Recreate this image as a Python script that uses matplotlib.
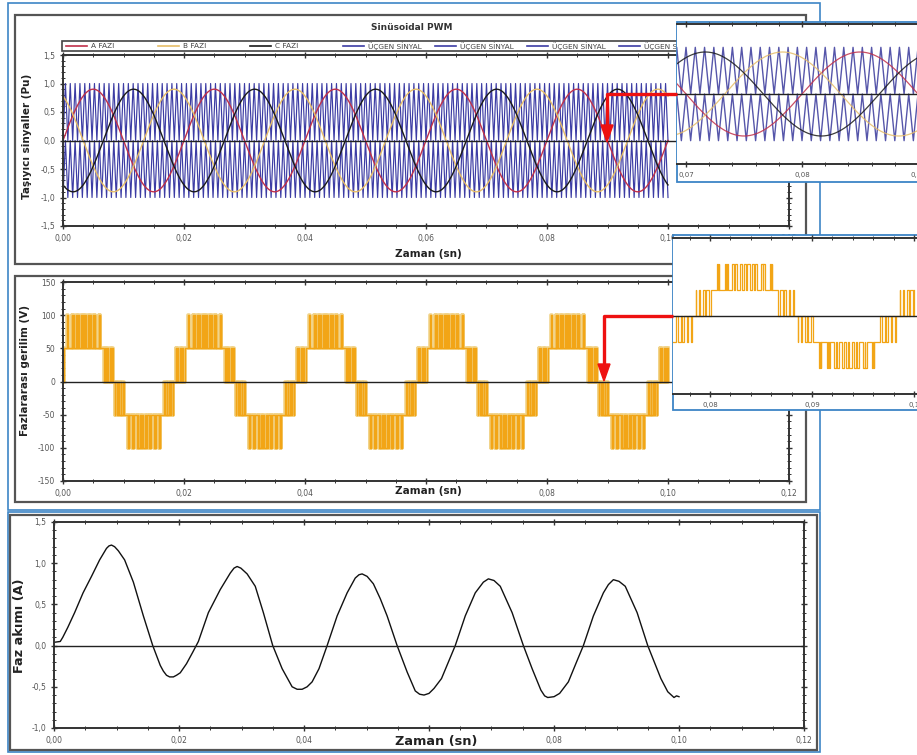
import numpy as np
import matplotlib
matplotlib.use("Agg")
from matplotlib import pyplot as plt
from matplotlib.lines import Line2D
from matplotlib.patches import Rectangle, Polygon
from matplotlib.ticker import MultipleLocator, FuncFormatter

W, H = 917, 755

# modulation settings
f_ref = 50.0            # Hz, reference
m_a = 0.9               # modulation index
f_carrier = 1250.0      # Hz, triangle carrier
v_level = 50.0          # V per inverter level
t_end = 0.1             # s
phase_names = ["A FAZI", "B FAZI", "C FAZI"]
phase_deg = [0.0, -240.0, -120.0]
phase_colors = ["#c0304a", "#e6bd68", "#1a1a1a"]
carrier_label = "ÜÇGEN SİNYAL"
carrier_color = "#3c3ca4"
volt_color = "#f2a516"
volt_halo = "#f1d48c"

# measured phase current
cur_t_ms = [0.0, 1.0, 1.4, 2.2, 3.3, 4.65, 6.0, 7.3, 8.4, 8.8, 9.2, 9.7, 10.3, 11.3, 12.7,
            14.3, 15.8, 17.0, 17.5, 18.0, 18.5, 19.1, 19.6, 20.2, 21.2, 22.2, 23.1, 24.7,
            26.6, 28.2, 28.8, 29.3, 29.9, 30.9, 32.2, 33.5, 35.0, 36.5, 38.1, 38.9, 39.7,
            40.5, 41.3, 42.4, 43.7, 45.3, 46.9, 48.2, 48.8, 49.3, 50.1, 51.1, 52.2, 53.3,
            54.9, 56.5, 57.8, 58.5, 59.2, 60.0, 60.8, 62.0, 64.2, 65.8, 67.4, 68.7, 69.5,
            70.4, 71.4, 73.3, 75.1, 76.5, 77.9, 78.5, 79.0, 80.0, 80.9, 82.3, 83.6, 84.7,
            86.3, 87.9, 88.7, 89.5, 90.4, 91.4, 93.3, 95.0, 97.1, 98.2, 99.2, 99.6, 100.0]
cur_a = [0.04, 0.05, 0.10, 0.22, 0.40, 0.64, 0.84, 1.04, 1.18, 1.21, 1.22, 1.20, 1.15, 1.04, 0.77,
         0.36, 0.0, -0.24, -0.31, -0.36, -0.38, -0.38, -0.36, -0.33, -0.22, -0.08, 0.05, 0.40,
         0.68, 0.88, 0.94, 0.96, 0.94, 0.87, 0.72, 0.40, 0.0, -0.28, -0.50, -0.53, -0.53,
         -0.50, -0.44, -0.28, 0.0, 0.36, 0.64, 0.82, 0.86, 0.87, 0.84, 0.75, 0.57, 0.36,
         0.0, -0.32, -0.55, -0.59, -0.60, -0.58, -0.52, -0.40, 0.0, 0.36, 0.64, 0.77, 0.81,
         0.79, 0.72, 0.40, 0.0, -0.28, -0.54, -0.61, -0.63, -0.62, -0.58, -0.44, -0.20, 0.0,
         0.36, 0.64, 0.74, 0.80, 0.78, 0.72, 0.40, 0.0, -0.40, -0.56, -0.63, -0.61, -0.62]

# reference sines
t_ref = np.linspace(0, t_end, 4001)
refs = [m_a * np.sin(2 * np.pi * f_ref * t_ref + np.deg2rad(d)) for d in phase_deg]

# level shifted carriers (in phase)
n_half = int(round(t_end * f_carrier * 2))
t_car = np.arange(n_half + 1) / (2 * f_carrier)
car_up = (np.arange(n_half + 1) % 2).astype(float)
car_dn = car_up - 1.0

# line voltage A-C from the comparison
t_f = np.linspace(0, t_end, 400001)
c_f = np.interp(t_f, t_car, car_up)


def leg(ref):
    return v_level * ((ref > c_f).astype(float) - (ref < c_f - 1).astype(float))


ref_f = [m_a * np.sin(2 * np.pi * f_ref * t_f + np.deg2rad(d)) for d in phase_deg]
v_line = leg(ref_f[0]) - leg(ref_f[2])
chg = np.flatnonzero(np.diff(v_line)) + 1
keep = np.concatenate(([0], chg, [len(t_f) - 1]))
t_v, v_v = t_f[keep], v_line[keep]

t_cur = np.array(cur_t_ms) / 1000.0


def px(l, t, r, b):
    return [l / W, 1 - b / H, (r - l) / W, (b - t) / H]


def comma(fmt, skip=None):
    def f(v, p):
        if skip is not None and abs(v - skip) < 1e-9:
            return ""
        return fmt.format(v).replace(".", ",")
    return FuncFormatter(f)


def style(ax, xmaj, xmin, ymaj, ymin, yfmt, lsize=5.5, xskip=None):
    ax.set_facecolor("white")
    for s in ax.spines.values():
        s.set_color("#333333")
        s.set_linewidth(1.4)
    ax.xaxis.set_major_locator(MultipleLocator(xmaj))
    ax.xaxis.set_minor_locator(MultipleLocator(xmin))
    ax.yaxis.set_major_locator(MultipleLocator(ymaj))
    ax.yaxis.set_minor_locator(MultipleLocator(ymin))
    ax.xaxis.set_major_formatter(comma("{:.2f}", xskip))
    ax.yaxis.set_major_formatter(comma(yfmt))
    ax.tick_params(which="both", direction="inout", top=True, right=True,
                   color="#333333", labelcolor="#555555", labelsize=lsize, pad=3)
    ax.tick_params(which="major", length=5, width=1)
    ax.tick_params(which="minor", length=3, width=0.7)
    ax.axhline(0, color="#222222", lw=1, zorder=3)


def ftext(x, y, s, **kw):
    fig.text(x / W, 1 - y / H, s, ha="center", va="center", **kw)


def fline(xs, ys, **kw):
    fig.add_artist(Line2D([x / W for x in xs], [1 - y / H for y in ys],
                          transform=fig.transFigure, **kw))


def fbox(l, t, r, b, **kw):
    fig.add_artist(Rectangle((l / W, 1 - b / H), (r - l) / W, (b - t) / H,
                             transform=fig.transFigure, **kw))


def farrow(xs, ys, tip_len, half_w, z):
    fline(xs[:-1] + [xs[-1]], ys[:-1] + [ys[-1] - tip_len], color="#ee1111", lw=2.4,
          zorder=z, solid_capstyle="butt")
    x, y = xs[-1], ys[-1]
    pts = [(x / W, 1 - y / H), ((x - half_w) / W, 1 - (y - tip_len) / H),
           ((x + half_w) / W, 1 - (y - tip_len) / H)]
    fig.add_artist(Polygon(pts, closed=True, transform=fig.transFigure,
                           color="#ee1111", zorder=z))


fig = plt.figure(figsize=(W / 100, H / 100), dpi=100)
fig.patch.set_facecolor("white")

# frames
fbox(8, 3, 820, 510, fill=False, ec="#3d85c6", lw=1.2, zorder=-2)
fbox(8, 512, 820, 752, fill=False, ec="#3d85c6", lw=1.2, zorder=-2)
fbox(15, 15, 806, 264, fill=False, ec="#555555", lw=1.6, zorder=-1)
fbox(15, 276, 806, 502, fill=False, ec="#555555", lw=1.6, zorder=-1)
fbox(10, 515, 817, 750, fill=False, ec="#555555", lw=1.6, zorder=-1)

# carriers and references
ax1 = fig.add_axes(px(63, 55, 789, 226))
style(ax1, 0.02, 0.005, 0.5, 0.1, "{:.1f}")
ax1.plot(t_car, car_up, color=carrier_color, lw=0.85)
ax1.plot(t_car, car_dn, color=carrier_color, lw=0.85)
for r, c in zip(refs, phase_colors):
    ax1.plot(t_ref, r, color=c, lw=1.0)
ax1.set_xlim(0, 0.12)
ax1.set_ylim(-1.5, 1.5)

ftext(412, 28, "Sinüsoidal PWM", fontsize=6.5, fontweight="bold", color="#333333")
ftext(428, 254, "Zaman (sn)", fontsize=7.5, fontweight="bold", color="#222222")
ftext(27, 136, "Taşıyıcı sinyaller (Pu)", fontsize=7.5, fontweight="bold",
      color="#222222", rotation=90)

# legend strip
fbox(62, 41, 790, 51, fc="white", ec="#444444", lw=1.2, zorder=2)
leg_x = [66, 158, 250, 343, 435, 527, 619]
leg_lab = phase_names + [carrier_label] * 4
leg_col = phase_colors + [carrier_color] * 4
for x, lab, col in zip(leg_x, leg_lab, leg_col):
    fline([x, x + 21], [46, 46], color=col, lw=1.2, zorder=3)
    fig.text((x + 25) / W, 1 - 46 / H, lab, ha="left", va="center", fontsize=5.3,
             color="#444444", zorder=3)

# line voltage
ax2 = fig.add_axes(px(63, 282, 789, 481))
style(ax2, 0.02, 0.005, 50, 10, "{:.0f}", xskip=0.06)
ax2.plot(t_v, v_v, drawstyle="steps-post", color=volt_halo, lw=2.6)
ax2.plot(t_v, v_v, drawstyle="steps-post", color=volt_color, lw=1.0)
ax2.set_xlim(0, 0.12)
ax2.set_ylim(-150, 150)
ftext(428, 491, "Zaman (sn)", fontsize=7.5, fontweight="bold", color="#222222")
ftext(25, 371, "Fazlararası gerilim (V)", fontsize=7.5, fontweight="bold",
      color="#222222", rotation=90)

# phase current
ax3 = fig.add_axes(px(54, 522, 804, 728))
style(ax3, 0.02, 0.005, 0.5, 0.1, "{:.1f}", xskip=0.06)
ax3.plot(t_cur, cur_a, color="#111111", lw=1.0)
ax3.set_xlim(0, 0.12)
ax3.set_ylim(-1.0, 1.5)
ftext(436, 741, "Zaman (sn)", fontsize=9.3, fontweight="bold", color="#222222")
ftext(20, 626, "Faz akımı (A)", fontsize=9.3, fontweight="bold", color="#222222",
      rotation=90)

# zoom windows
fbox(677, 22, 940, 182, fc="white", ec="#3d85c6", lw=1.3, zorder=4)
in1 = fig.add_axes(px(677, 24, 940, 164), zorder=5)
style(in1, 0.01, 0.002, 0.5, 0.5, "{:.1f}", lsize=5)
in1.spines["left"].set_visible(False)
in1.spines["right"].set_visible(False)
in1.tick_params(which="both", left=False, right=False, labelleft=False)
in1.plot(t_car, car_up, color="#5656aa", lw=1.0)
in1.plot(t_car, car_dn, color="#5656aa", lw=1.0)
for r, c in zip(refs, phase_colors):
    in1.plot(t_ref, r, color=c, lw=0.9, alpha=0.85)
in1.set_xlim(0.07 - 9 / 11600, 0.07 + (940 - 686) / 11600)
in1.set_ylim(-1.5, 1.5)

fbox(673, 235, 940, 410, fc="white", ec="#3d85c6", lw=1.3, zorder=4)
in2 = fig.add_axes(px(673, 238, 940, 394), zorder=5)
style(in2, 0.01, 0.002, 50, 50, "{:.0f}", lsize=5)
in2.xaxis.set_major_formatter(FuncFormatter(
    lambda v, p: ("{:.2f}".format(v).replace(".", ",")) if abs(v - 0.1) > 1e-6 else "0,1"))
in2.spines["left"].set_visible(False)
in2.spines["right"].set_visible(False)
in2.tick_params(which="both", left=False, right=False, labelleft=False)
in2.plot(t_v, v_v, drawstyle="steps-post", color=volt_color, lw=0.9)
in2.set_xlim(0.08 - 37 / 10200, 0.08 + 230 / 10200)
in2.set_ylim(-150, 150)

farrow([677, 607, 607], [94, 94, 142], 17, 6, 6)
farrow([673, 604, 604], [316, 316, 381], 17, 6, 6)

fig.savefig("out.png", dpi=100)
